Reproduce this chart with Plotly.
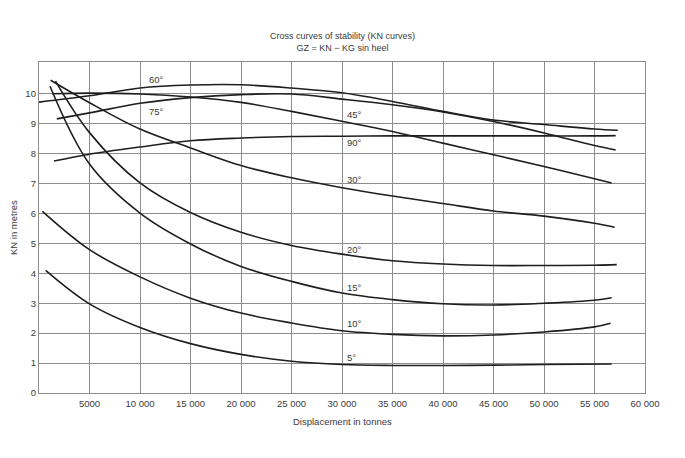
import plotly.graph_objects as go

# ---- data (displacement in tonnes, KN in metres) ----
x_5 = [660, 5000, 10000, 15000, 20000, 25000, 30000, 35000, 40000, 45000, 50000, 56700]
y_5 = [4.10, 2.98, 2.19, 1.65, 1.29, 1.06, 0.95, 0.92, 0.92, 0.93, 0.95, 0.97]

x_10 = [340, 5000, 10000, 15000, 20000, 25000, 30000, 35000, 40000, 45000, 50000, 55000, 56600]
y_10 = [6.07, 4.79, 3.88, 3.17, 2.67, 2.34, 2.08, 1.96, 1.91, 1.94, 2.04, 2.21, 2.33]

x_15 = [1090, 5000, 10000, 15000, 20000, 25000, 30000, 35000, 40000, 45000, 50000, 55000, 56700]
y_15 = [10.25, 7.65, 6.01, 4.98, 4.23, 3.73, 3.34, 3.12, 2.98, 2.94, 3.00, 3.10, 3.18]

x_20 = [1635, 5000, 10000, 15000, 20000, 25000, 30000, 35000, 40000, 45000, 50000, 55000, 57200]
y_20 = [10.42, 8.70, 7.02, 6.03, 5.37, 4.93, 4.64, 4.42, 4.31, 4.26, 4.26, 4.27, 4.29]

x_30 = [1154, 5000, 10000, 15000, 20000, 25000, 30000, 35000, 40000, 45000, 50000, 55000, 57000]
y_30 = [10.45, 9.70, 8.82, 8.19, 7.60, 7.19, 6.86, 6.58, 6.33, 6.08, 5.91, 5.67, 5.54]

x_45 = [1300, 5000, 10000, 15000, 20000, 25000, 30000, 35000, 40000, 45000, 50000, 55000, 56700]
y_45 = [10.00, 10.02, 9.99, 9.89, 9.71, 9.41, 9.08, 8.74, 8.35, 7.96, 7.57, 7.16, 7.02]

x_60 = [0, 5000, 10000, 15000, 20000, 25000, 30000, 35000, 40000, 45000, 50000, 55000, 57300]
y_60 = [9.72, 9.93, 10.19, 10.29, 10.30, 10.19, 10.03, 9.74, 9.41, 9.12, 8.97, 8.82, 8.78]

x_75 = [1765, 5000, 10000, 15000, 20000, 25000, 30000, 35000, 40000, 45000, 50000, 55000, 57100]
y_75 = [9.16, 9.36, 9.68, 9.87, 9.97, 9.99, 9.82, 9.63, 9.39, 9.07, 8.69, 8.27, 8.12]

x_90 = [1474, 5000, 10000, 15000, 20000, 25000, 30000, 35000, 40000, 45000, 50000, 55000, 57100]
y_90 = [7.75, 7.98, 8.22, 8.43, 8.52, 8.57, 8.58, 8.59, 8.59, 8.59, 8.59, 8.59, 8.60]

curve_labels = ["5°", "10°", "15°", "20°", "30°", "45°", "60°", "75°", "90°"]

x_tickvals = [5000, 10000, 15000, 20000, 25000, 30000, 35000, 40000, 45000, 50000, 55000, 60000]
x_ticktext = ["5000", "10 000", "15 000", "20 000", "25 000", "30 000", "35 000",
              "40 000", "45 000", "50 000", "55 000", "60 000"]
y_tickvals = [0, 1, 2, 3, 4, 5, 6, 7, 8, 9, 10]

series = [(x_5, y_5), (x_10, y_10), (x_15, y_15), (x_20, y_20), (x_30, y_30),
          (x_45, y_45), (x_60, y_60), (x_75, y_75), (x_90, y_90)]

FONT = "Liberation Sans, Arial, sans-serif"
TXT = "#3a3a3a"

fig = go.Figure()
for (xs, ys), name in zip(series, curve_labels):
    fig.add_trace(go.Scatter(
        x=xs, y=ys, mode="lines", name=name,
        line=dict(color="#1e1e1e", width=1.6, shape="spline", smoothing=1.0),
        hoverinfo="skip", showlegend=False,
    ))

# curve label positions (data coordinates)
label_pos = {
    "60°": (10660, 10.47), "75°": (10660, 9.41),
    "45°": (30270, 9.30), "90°": (30270, 8.37), "30°": (30270, 7.13),
    "20°": (30270, 4.79), "15°": (30270, 3.54), "10°": (30270, 2.32), "5°": (30270, 1.20),
}
for lab in curve_labels:
    lx, ly = label_pos[lab]
    fig.add_annotation(x=lx, y=ly, text=lab, showarrow=False, xanchor="left",
                       yanchor="middle", font=dict(family=FONT, size=9.5, color=TXT))

# chart title
fig.add_annotation(xref="paper", yref="paper", x=0.5, y=1.0, yshift=7,
                   text="Cross curves of stability (KN curves)<br>GZ = KN − KG sin heel",
                   showarrow=False, xanchor="center", yanchor="bottom",
                   font=dict(family=FONT, size=9, color=TXT))
# axis titles
fig.add_annotation(xref="paper", yref="paper", x=0.5, y=-0.087,
                   text="Displacement in tonnes", showarrow=False,
                   xanchor="center", yanchor="middle",
                   font=dict(family=FONT, size=9.5, color=TXT))
fig.add_annotation(xref="paper", yref="paper", x=-0.042, y=0.5,
                   text="KN in metres", showarrow=False, textangle=-90,
                   xanchor="center", yanchor="middle",
                   font=dict(family=FONT, size=9.5, color=TXT))

# the page body has an 8 px margin, so the figure is sized to fit inside it
fig.update_layout(
    width=669, height=442,
    margin=dict(l=31, r=32, t=54, b=57),
    paper_bgcolor="white", plot_bgcolor="white",
    font=dict(family=FONT, size=9.5, color=TXT),
    xaxis=dict(
        range=[0, 60000], tickvals=x_tickvals, ticktext=x_ticktext,
        showgrid=True, gridcolor="#8c8c8c", gridwidth=1.3,
        showline=True, linecolor="#8c8c8c", linewidth=1.3, mirror=True,
        zeroline=False, ticks="", ticklabelstandoff=1, automargin=False,
    ),
    yaxis=dict(
        range=[0, 11.06], tickvals=y_tickvals,
        showgrid=True, gridcolor="#8c8c8c", gridwidth=1.3,
        showline=True, linecolor="#8c8c8c", linewidth=1.3, mirror=True,
        zeroline=False, ticks="", automargin=False,
    ),
)

fig.write_html("out.html")
